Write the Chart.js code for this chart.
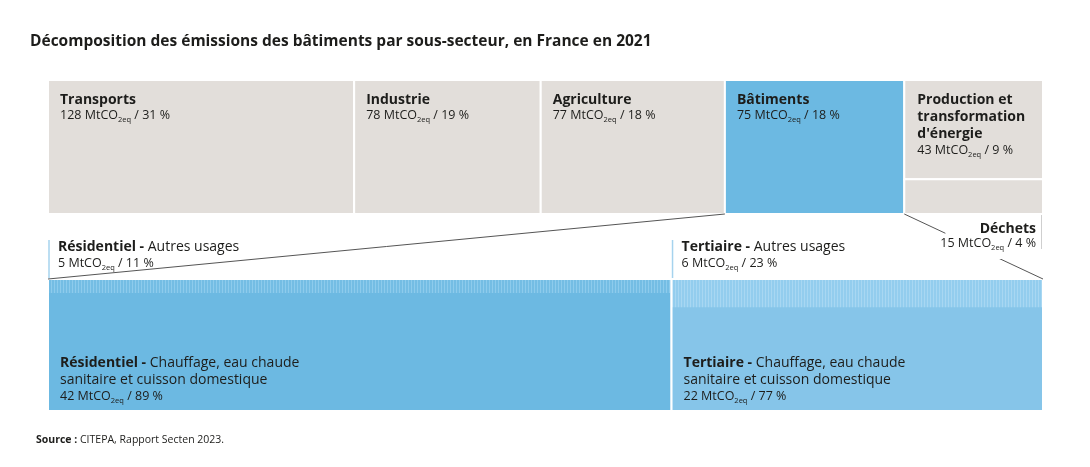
<!DOCTYPE html>
<html>
<head>
<meta charset="utf-8">
<script src="https://cdn.jsdelivr.net/npm/chart.js@4.4.1/dist/chart.umd.min.js"></script>
<style>
  html, body { margin: 0; padding: 0; background: #fff; }
  #wrap { width: 1090px; height: 467px; position: relative; }
</style>
</head>
<body>
<div id="wrap"><canvas id="treemap"></canvas></div>
<script>
// emissions by sector, France 2021 (MtCO2eq and share of total)
var sectors = ['Transports', 'Industrie', 'Agriculture', 'Bâtiments', "Production et transformation d'énergie", 'Déchets'];
var emissions = [128, 78, 77, 75, 43, 15];
var shares = [31, 19, 18, 18, 9, 4];

// buildings split into sub-sectors
var subSectors = ['Résidentiel', 'Tertiaire'];
var heating = [42, 22];
var heatingShares = [89, 77];
var otherUses = [5, 6];
var otherShares = [11, 23];
var heatingLabel = ['Chauffage, eau chaude', 'sanitaire et cuisson domestique'];
var otherLabel = 'Autres usages';

var title = 'Décomposition des émissions des bâtiments par sous-secteur, en France en 2021';
var source = ['Source :', ' CITEPA, Rapport Secten 2023.'];

// vertical bands in y units (reversed axis, 0 = top of plot)
var TOP_ROW = [0, 134];
var BOTTOM_ROW = [199, 331];

var GREY = '#e2deda';
var BLUE = '#6cb9e2';
var BLUE_LIGHT = '#86c5e9';
var INK = '#1d1d1b';
var FONT = '"Open Sans"';

function rect(x0, x1, y0, y1) {
  return [{x: x0, y: y0}, {x: x1, y: y0}, {x: x1, y: y1}, {x: x0, y: y1}, {x: x0, y: y0}];
}

function stripes(base, light) {
  var c = document.createElement('canvas');
  c.width = 3; c.height = 1;
  var g = c.getContext('2d');
  g.fillStyle = base; g.fillRect(0, 0, 3, 1);
  g.fillStyle = light; g.fillRect(0, 0, 1, 1);
  return g.createPattern(c, 'repeat');
}

function block(points, color, axis, border) {
  return {
    data: points,
    xAxisID: axis || 'x',
    showLine: true,
    fill: color ? 'shape' : false,
    backgroundColor: color || 'transparent',
    borderColor: border === 0 ? 'transparent' : '#fff',
    borderWidth: border === 0 ? 0 : 2,
    borderJoinStyle: 'miter',
    pointRadius: 0,
    tension: 0
  };
}

var total = emissions.reduce(function (a, b) { return a + b; }, 0);
var starts = [];
var datasets = [];

// top row: first four sectors side by side, last two stacked in one column
var cum = 0;
for (var i = 0; i < 4; i++) {
  starts.push(cum);
  datasets.push(block(rect(cum, cum + emissions[i], TOP_ROW[0], TOP_ROW[1]), i === 3 ? BLUE : GREY));
  cum += emissions[i];
}
var colStart = cum;
var colTotal = emissions[4] + emissions[5];
var split = TOP_ROW[0] + (TOP_ROW[1] - TOP_ROW[0]) * emissions[4] / colTotal;
datasets.push(block(rect(colStart, total, TOP_ROW[0], split), GREY));
datasets.push(block(rect(colStart, total, split, TOP_ROW[1]), GREY));

// bottom row: buildings breakdown on its own x axis
var subTotals = heating.map(function (v, k) { return v + otherUses[k]; });
var buildingsTotal = subTotals[0] + subTotals[1];
var subStarts = [0, subTotals[0]];
var rowH = BOTTOM_ROW[1] - BOTTOM_ROW[0];
var fills = [BLUE, BLUE_LIGHT];
var patterns = [stripes('#74bde4', '#8dcbec'), stripes('#93cdee', '#a8d7f2')];
for (var k = 0; k < 2; k++) {
  var x0 = subStarts[k], x1 = x0 + subTotals[k];
  var stripH = rowH * otherUses[k] / subTotals[k];
  datasets.push(block(rect(x0, x1, BOTTOM_ROW[0], BOTTOM_ROW[1]), fills[k], 'x2', 0));
  datasets.push(block(rect(x0, x1, BOTTOM_ROW[0], BOTTOM_ROW[0] + stripH), patterns[k], 'x2', 0));
  datasets.push(block(rect(x0, x1, BOTTOM_ROW[0], BOTTOM_ROW[1]), null, 'x2'));
}

// zoom connectors from the Bâtiments block to the breakdown
function connector(xa, xb) {
  return {
    data: [{x: xa, y: TOP_ROW[1]}, {x: xb, y: BOTTOM_ROW[0]}],
    showLine: true, fill: false, borderColor: '#555', borderWidth: 1,
    pointRadius: 0
  };
}
datasets.push(connector(starts[3], 0));
datasets.push(connector(starts[3] + emissions[3], total));

// later datasets on top
datasets.forEach(function (d, n) { d.order = datasets.length - n; });

function co2(ctx, x, y, value, share, size, align) {
  var a = value + ' MtCO', b = '2eq', c = ' / ' + share + ' %';
  ctx.font = size + 'px ' + FONT;
  var wa = ctx.measureText(a).width, wc = ctx.measureText(c).width;
  ctx.font = '7.5px ' + FONT;
  var wb = ctx.measureText(b).width;
  var w = wa + wb + wc;
  var sx = align === 'right' ? x - w : x;
  ctx.textAlign = 'left';
  ctx.font = size + 'px ' + FONT;
  ctx.fillText(a, sx, y);
  ctx.fillText(c, sx + wa + wb, y);
  ctx.font = '7.5px ' + FONT;
  ctx.fillText(b, sx + wa, y + 3);
  return w;
}

function rich(ctx, x, y, parts, size) {
  ctx.textAlign = 'left';
  parts.forEach(function (p) {
    ctx.font = (p[1] ? 'bold ' : '') + size + 'px ' + FONT;
    ctx.fillText(p[0], x, y);
    x += ctx.measureText(p[0]).width;
  });
}

function wrap(ctx, text, maxW) {
  var words = text.split(' '), lines = [], line = '';
  words.forEach(function (w) {
    var t = line ? line + ' ' + w : w;
    if (ctx.measureText(t).width > maxW && line) { lines.push(line); line = w; }
    else line = t;
  });
  lines.push(line);
  return lines;
}

var labelPlugin = {
  id: 'labels',
  afterDatasetsDraw: function (chart) {
    var ctx = chart.ctx, x = chart.scales.x, y = chart.scales.y, x2 = chart.scales.x2;
    ctx.save();
    ctx.fillStyle = INK;
    ctx.textBaseline = 'alphabetic';

    ctx.font = 'bold 15.5px ' + FONT;
    ctx.fillText(title, 30, 46);

    var top = y.getPixelForValue(TOP_ROW[0]);
    for (var i = 0; i < 4; i++) {
      var lx = x.getPixelForValue(starts[i]) + 12;
      ctx.font = 'bold 14px ' + FONT;
      ctx.fillText(sectors[i], lx, top + 24);
      co2(ctx, lx, top + 39, emissions[i], shares[i], 12.5);
    }

    // production column, wrapped name
    var px = x.getPixelForValue(colStart) + 13;
    ctx.font = 'bold 14px ' + FONT;
    var lines = wrap(ctx, sectors[4], x.getPixelForValue(total) - px - 6);
    lines.forEach(function (l, n) { ctx.fillText(l, px, top + 24 + n * 17); });
    co2(ctx, px, top + 24 + (lines.length - 1) * 17 + 16, emissions[4], shares[4], 12.5);

    // déchets label below its block, masking the connector
    var bottom = y.getPixelForValue(TOP_ROW[1]);
    var right = x.getPixelForValue(total);
    ctx.font = '12.5px ' + FONT;
    var w = ctx.measureText(emissions[5] + ' MtCO / ' + shares[5] + ' %').width + 8;
    ctx.fillStyle = '#fff';
    ctx.fillRect(right - 7 - w, bottom + 1, w + 5, 44);
    ctx.strokeStyle = '#cfcfcf';
    ctx.lineWidth = 1;
    ctx.beginPath();
    ctx.moveTo(right - 1.5, bottom + 1);
    ctx.lineTo(right - 1.5, bottom + 35);
    ctx.stroke();
    ctx.fillStyle = INK;
    ctx.textAlign = 'right';
    ctx.font = 'bold 14px ' + FONT;
    ctx.fillText(sectors[5], right - 7, bottom + 19);
    co2(ctx, right - 7, bottom + 33, emissions[5], shares[5], 12.5, 'right');

    // sub-sector labels
    var bTop = y.getPixelForValue(BOTTOM_ROW[0]);
    var bBot = y.getPixelForValue(BOTTOM_ROW[1]);
    for (var k = 0; k < 2; k++) {
      var sx = x2.getPixelForValue(subStarts[k]);
      ctx.strokeStyle = '#a6d3ee';
      ctx.lineWidth = 1.5;
      ctx.beginPath();
      ctx.moveTo(sx + 1, bTop - 39);
      ctx.lineTo(sx + 1, bTop - 1);
      ctx.stroke();
      ctx.fillStyle = INK;
      rich(ctx, sx + 10, bTop - 28, [[subSectors[k] + ' - ', true], [otherLabel, false]], 14);
      co2(ctx, sx + 10, bTop - 12, otherUses[k], otherShares[k], 12.5);

      rich(ctx, sx + 12, bBot - 44, [[subSectors[k] + ' - ', true], [heatingLabel[0], false]], 14);
      rich(ctx, sx + 12, bBot - 27, [[heatingLabel[1], false]], 14);
      co2(ctx, sx + 12, bBot - 11, heating[k], heatingShares[k], 12.5);
    }

    rich(ctx, 36, 443, [[source[0], true], [source[1], false]], 10.5);
    ctx.restore();
  }
};

new Chart(document.getElementById('treemap'), {
  type: 'scatter',
  data: { datasets: datasets },
  options: {
    responsive: true,
    maintainAspectRatio: false,
    animation: false,
    layout: { padding: { left: 48, right: 47, top: 80, bottom: 56 } },
    scales: {
      x: { type: 'linear', min: 0, max: total, display: false },
      x2: { type: 'linear', min: 0, max: buildingsTotal, display: false },
      y: { type: 'linear', min: 0, max: BOTTOM_ROW[1], reverse: true, display: false }
    },
    plugins: {
      legend: { display: false },
      tooltip: { enabled: false }
    }
  },
  plugins: [labelPlugin]
});
</script>
</body>
</html>
